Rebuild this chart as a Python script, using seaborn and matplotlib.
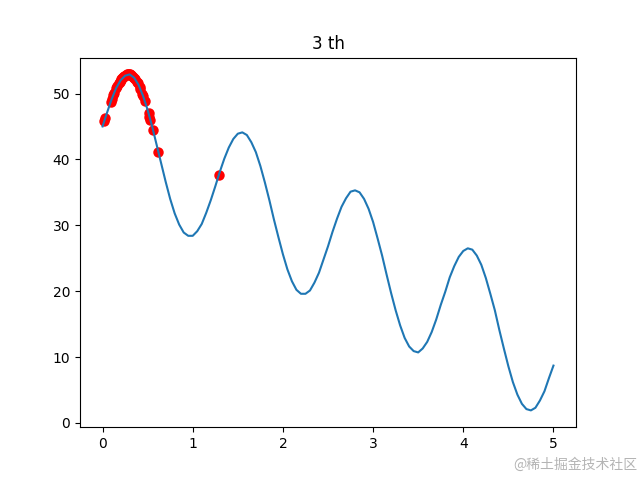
import matplotlib
matplotlib.use("Agg")
import matplotlib.pyplot as plt
import seaborn as sns

# curve values (step 0.05)
curve_x = [round(i * 0.05, 2) for i in range(101)]
curve_y = [45.0, 47.1, 49.1, 50.8, 52.0, 52.7, 52.9, 52.4, 51.3, 49.6,
           47.5, 45.0, 42.2, 39.4, 36.6, 34.0, 31.8, 30.1, 28.9, 28.4,
           28.4, 29.1, 30.2, 31.9, 33.8, 35.9, 38.1, 40.1, 41.8, 43.1,
           43.9, 44.1, 43.7, 42.6, 41.1, 39.0, 36.5, 33.8, 30.9, 28.2,
           25.6, 23.3, 21.5, 20.2, 19.6, 19.6, 20.1, 21.3, 22.8, 24.8,
           26.8, 29.0, 31.0, 32.8, 34.1, 35.1, 35.3, 35.0, 34.0, 32.5,
           30.5, 28.0, 25.4, 22.5, 19.7, 17.1, 14.8, 12.9, 11.6, 10.9,
           10.7, 11.3, 12.3, 13.8, 15.7, 17.9, 19.9, 22.1, 23.8, 25.2,
           26.1, 26.5, 26.3, 25.4, 24.0, 22.0, 19.6, 17.1, 14.1, 11.3,
           8.6, 6.2, 4.3, 2.9, 2.1, 1.9, 2.3, 3.4, 4.8, 6.8, 8.7]

# population points (red)
pop_x = [0.02, 0.03, 0.09, 0.10, 0.12, 0.13, 0.15, 0.16, 0.18, 0.19,
         0.20, 0.21, 0.22, 0.23, 0.24, 0.25, 0.26, 0.27, 0.28, 0.29,
         0.30, 0.31, 0.32, 0.33, 0.34, 0.35, 0.36, 0.38, 0.39, 0.41,
         0.42, 0.44, 0.45, 0.47, 0.51, 0.52, 0.53, 0.56, 0.62, 1.29]
pop_y = [45.9, 46.3, 48.7, 49.1, 49.8, 50.1, 50.8, 51.1, 51.6, 51.8,
         52.0, 52.2, 52.4, 52.5, 52.6, 52.7, 52.8, 52.9, 52.9, 52.9,
         52.9, 52.8, 52.8, 52.7, 52.5, 52.4, 52.2, 51.8, 51.6, 51.0,
         50.7, 50.0, 49.6, 48.8, 47.0, 46.5, 46.0, 44.4, 41.1, 37.6]

fig, ax = plt.subplots(figsize=(6.4, 4.8), dpi=100)
sns.scatterplot(x=pop_x, y=pop_y, color="red", s=36, edgecolor="red",
                linewidth=1.5, ax=ax)
sns.lineplot(x=curve_x, y=curve_y, color="tab:blue", ax=ax)
ax.set_title("3 th")

fig.text(0.996, 0.016, "@稀土掘金技术社区", ha="right", va="bottom",
         fontsize=10, color="#b4b4b4",
         family=["Noto Sans CJK SC", "DejaVu Sans"])

plt.savefig("out.png")
plt.close()
